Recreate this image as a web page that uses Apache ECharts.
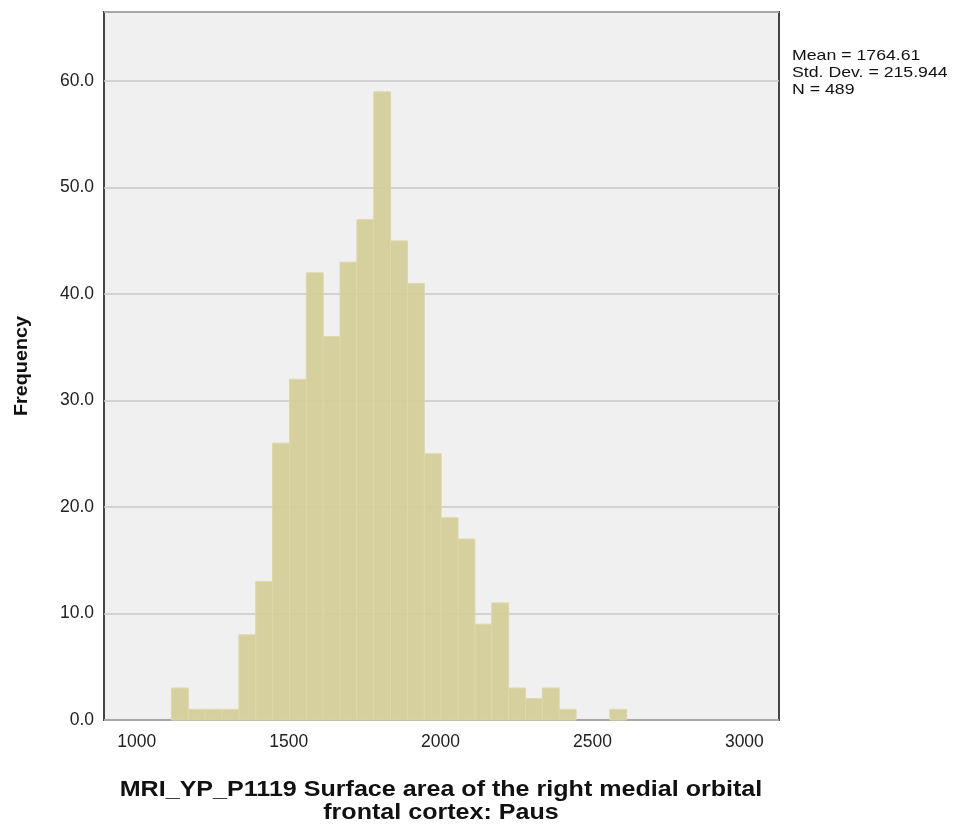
<!DOCTYPE html>
<html>
<head>
<meta charset="utf-8">
<script src="https://cdn.jsdelivr.net/npm/echarts@6/dist/echarts.min.js"></script>
<style>
html,body{margin:0;padding:0;background:#fff;}
#c{width:956px;height:829px;}
</style>
</head>
<body>
<div id="c"></div>
<script>
// Histogram bins (left edge of first bin and bin width in data units)
const binStart = 1114;
const binWidth = 55.5;
const counts = [3, 1, 1, 1, 8, 13, 26, 32, 42, 36, 43, 47, 59, 45, 41, 25, 19, 17, 9, 11, 3, 2, 3, 1, 0, 0, 1];
const xTicks = [1000, 1500, 2000, 2500, 3000];
const yTicks = [0, 10, 20, 30, 40, 50, 60];
const statsLines = ['Mean = 1764.61', 'Std. Dev. = 215.944', 'N = 489'];
const xTitle = 'MRI_YP_P1119 Surface area of the right medial orbital\nfrontal cortex: Paus';
const yTitle = 'Frequency';

const binData = counts.map((c, i) => [binStart + i * binWidth, binStart + (i + 1) * binWidth, c]);
const FONT = 'Liberation Sans, Arial, sans-serif';

const chart = echarts.init(document.getElementById('c'), null, {renderer: 'canvas'});
chart.setOption({
  backgroundColor: '#ffffff',
  animation: false,
  grid: {left: 104, right: 177, top: 12, bottom: 109, show: true, backgroundColor: '#F0F0F0', borderColor: '#444444', borderWidth: 2},
  xAxis: {
    type: 'value', min: 892, max: 3114,
    axisLine: {show: false}, axisTick: {show: false},
    splitLine: {show: false},
    axisLabel: {
      color: '#222', fontSize: 17.5, fontFamily: FONT, margin: 13,
      customValues: xTicks, formatter: v => String(v)
    }
  },
  yAxis: {
    type: 'value', min: 0, max: 66.5,
    axisLine: {show: false}, axisTick: {show: false},
    splitLine: {show: true, lineStyle: {color: '#C8C8C8', width: 1.5}},
    axisLabel: {
      color: '#222', fontSize: 17.5, fontFamily: FONT, margin: 10,
      customValues: yTicks, formatter: v => v.toFixed(1)
    }
  },
  series: [{
    type: 'custom',
    data: binData,
    encode: {x: [0, 1], y: 2},
    renderItem: function (params, api) {
      const v = api.value(2);
      if (!v) return null;
      const p0 = api.coord([api.value(0), 0]);
      const p1 = api.coord([api.value(1), v]);
      return {
        type: 'rect',
        shape: {x: p0[0], y: p1[1], width: p1[0] - p0[0], height: p0[1] - p1[1]},
        style: {fill: 'rgba(211,206,151,0.93)', stroke: '#DCD8AA', lineWidth: 1}
      };
    }
  }],
  graphic: [
    {
      type: 'text', x: 792, y: 47, scaleX: 1.18,
      style: {text: statsLines.join('\n'), fill: '#111', fontSize: 15, lineHeight: 17, fontFamily: FONT}
    },
    {
      type: 'text', x: 441, y: 801, scaleX: 1.14,
      style: {text: xTitle, fill: '#111', fontSize: 22, fontWeight: 'bold', lineHeight: 23, fontFamily: FONT,
              align: 'center', verticalAlign: 'middle', textAlign: 'center', textVerticalAlign: 'middle'}
    },
    {
      type: 'text', x: 22, y: 366, rotation: Math.PI / 2, scaleX: 1.1,
      style: {text: yTitle, fill: '#111', fontSize: 18, fontWeight: 'bold', fontFamily: FONT,
              align: 'center', verticalAlign: 'middle', textAlign: 'center', textVerticalAlign: 'middle'}
    }
  ]
});
</script>
</body>
</html>
